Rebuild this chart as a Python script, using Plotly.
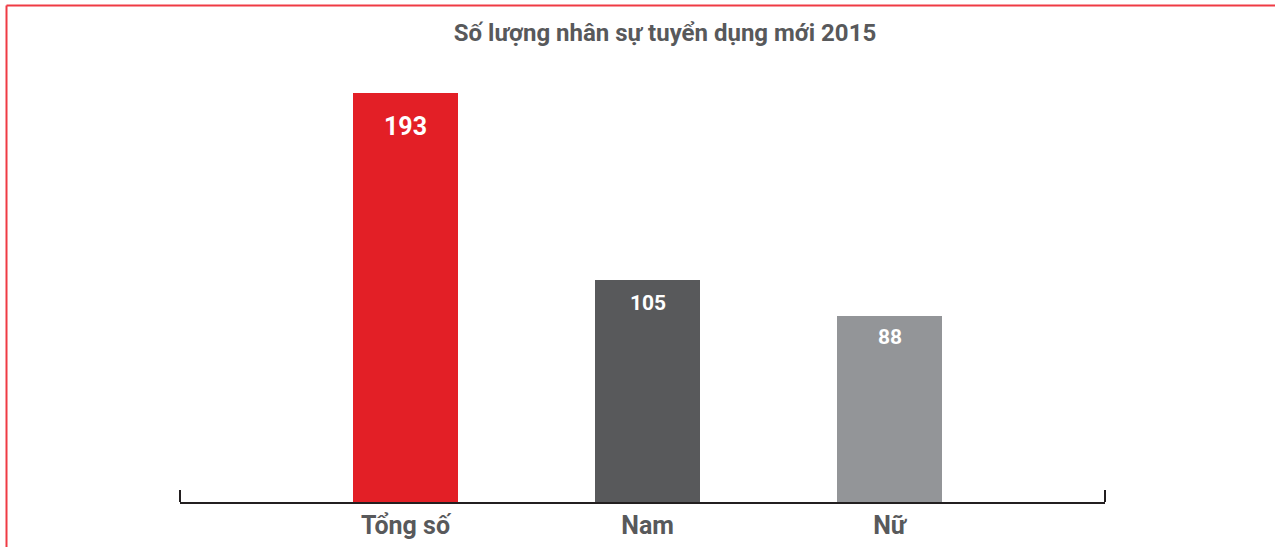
import plotly.graph_objects as go

# Recruitment figures for 2015
categories = ["Tổng số", "Nam", "Nữ"]
values = [193, 105, 88]
bar_colors = ["#e31f26", "#58595b", "#939598"]
label_sizes = [25, 21, 21]
label_offsets = [-33, -23, -21]

title_text = "Số lượng nhân sự tuyển dụng mới 2015"
TEXT_GRAY = "#58595b"
AXIS_DARK = "#231f20"
FRAME_RED = "#ef3b44"
FONT = "Roboto, Arial, sans-serif"

W, H = 1275, 547
M_L, M_R, M_T, M_B = 180, 170, 78, 45

fig = go.Figure()
fig.add_trace(go.Bar(
    x=list(range(len(categories))),
    y=values,
    width=0.434,
    marker=dict(color=bar_colors, line=dict(width=0)),
    hoverinfo="skip",
))

# value labels near the top of each bar
for i, v in enumerate(values):
    fig.add_annotation(
        x=i, y=v, text=str(v), showarrow=False,
        xanchor="center", yanchor="middle", yshift=label_offsets[i],
        font=dict(family=FONT, size=label_sizes[i], color="white", weight="bold"),
    )

# frame lines along the top and left edge of the page
pw = W - M_L - M_R
ph = H - M_T - M_B
fx = lambda px: (px - M_L) / pw
fy = lambda py: (H - M_B - py) / ph
shapes = [
    dict(type="line", xref="paper", yref="paper",
         x0=fx(6.5), x1=fx(W + 2), y0=fy(5.5), y1=fy(5.5),
         line=dict(color=FRAME_RED, width=2)),
    dict(type="line", xref="paper", yref="paper",
         x0=fx(6.5), x1=fx(6.5), y0=fy(5.5), y1=fy(H + 2),
         line=dict(color=FRAME_RED, width=2)),
]
# end caps on the baseline
shapes += [
    dict(type="line", xref="paper", yref="paper", ysizemode="pixel",
         yanchor=0, x0=xp, x1=xp, y0=0, y1=12,
         line=dict(color=AXIS_DARK, width=2))
    for xp in (0, 1)
]

fig.update_layout(
    width=W, height=H,
    margin=dict(l=M_L, r=M_R, t=M_T, b=M_B, autoexpand=False),
    paper_bgcolor="white", plot_bgcolor="white",
    showlegend=False,
    bargap=0,
    title=dict(text=title_text, x=665 / W, xanchor="center",
               y=1 - 33 / H, yanchor="middle",
               font=dict(family=FONT, size=24, color=TEXT_GRAY, weight="bold")),
    xaxis=dict(range=[-0.932, 2.89], tickmode="array",
               tickvals=list(range(len(categories))), ticktext=categories,
               showgrid=False, zeroline=False, showline=True, automargin=False,
               linecolor=AXIS_DARK, linewidth=2, ticks="",
               tickfont=dict(family=FONT, size=25, color=TEXT_GRAY, weight="bold")),
    yaxis=dict(range=[0, 200.1], visible=False, showgrid=False, zeroline=False,
               automargin=False),
    shapes=shapes,
)

fig.write_html("out.html")
